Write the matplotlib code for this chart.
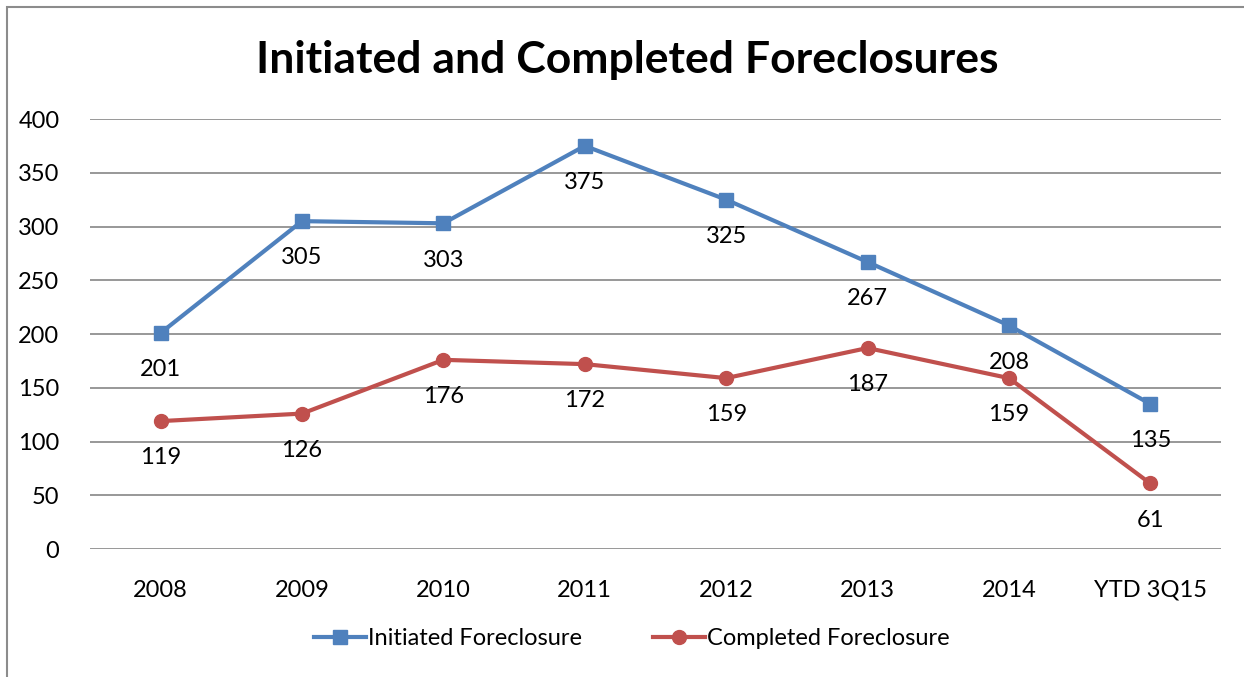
import matplotlib.pyplot as plt
from matplotlib.patches import Rectangle

categories = ['2008', '2009', '2010', '2011', '2012', '2013', '2014', 'YTD 3Q15']
initiated = [201, 305, 303, 375, 325, 267, 208, 135]
completed = [119, 126, 176, 172, 159, 187, 159, 61]

plt.rcParams['font.family'] = ['Lato', 'DejaVu Sans']

fig = plt.figure(figsize=(12.44, 6.77), dpi=100)
ax = fig.add_axes([0.0723, 0.189, 0.9092, 0.6352])

# outer chart frame (only left and top edges visible in the picture)
fig.patches.append(Rectangle((7 / 1244, -0.1), 1.2, (677 - 7) / 677 + 0.1,
                             transform=fig.transFigure, fill=False,
                             edgecolor='#8c8c8c', linewidth=1.5))

x = list(range(len(categories)))
ax.plot(x, initiated, color='#4F81BD', linewidth=3, marker='s', markersize=10,
        label='Initiated Foreclosure', zorder=3)
ax.plot(x, completed, color='#C0504D', linewidth=3, marker='o', markersize=10,
        label='Completed Foreclosure', zorder=3)

for xi, v in zip(x, initiated):
    ax.annotate(str(v), (xi, v), xytext=(0, -26.5), textcoords='offset points',
                ha='center', va='center', fontsize=17)
for xi, v in zip(x, completed):
    ax.annotate(str(v), (xi, v), xytext=(0, -26.5), textcoords='offset points',
                ha='center', va='center', fontsize=17)

ax.set_xlim(-0.5, 7.5)
ax.set_ylim(0, 400)
ax.set_yticks(range(0, 401, 50))
ax.set_xticks(x)
ax.set_xticklabels(categories)
ax.tick_params(axis='both', length=0, labelsize=17)
ax.tick_params(axis='y', pad=22)
ax.tick_params(axis='x', pad=22)
ax.grid(axis='y', color='#868686', linewidth=1.2)
ax.set_axisbelow(True)
for s in ax.spines.values():
    s.set_visible(False)

fig.suptitle('Initiated and Completed Foreclosures', fontsize=32,
             fontweight='bold', x=0.504, y=0.912, va='center')

fig.legend(loc='center', bbox_to_anchor=(0.508, 0.057), ncol=2, frameon=False,
           fontsize=17, handlelength=2.2, handletextpad=0.1, columnspacing=3.0)

fig.savefig('out.png', dpi=100)
